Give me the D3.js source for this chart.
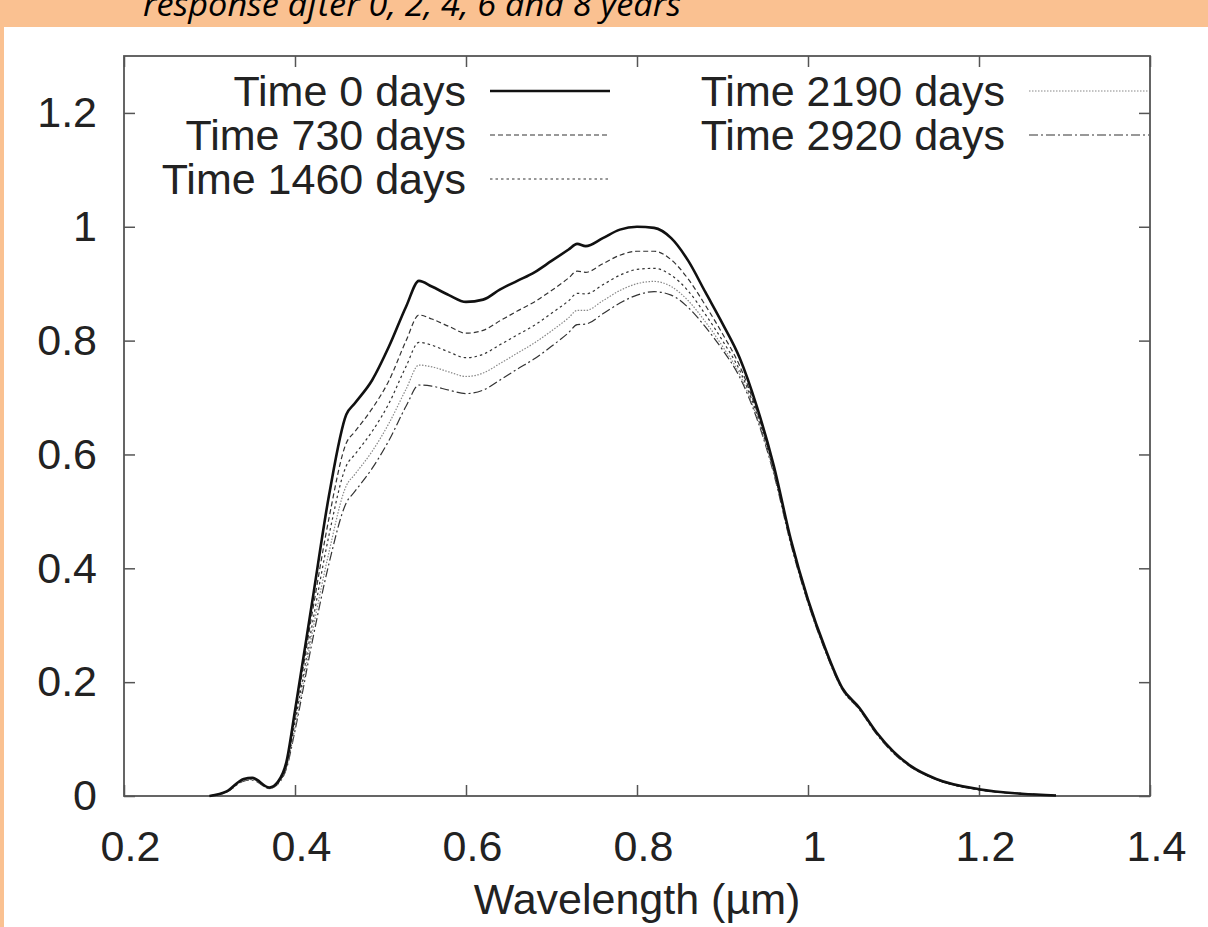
<!DOCTYPE html>
<html>
<head>
<meta charset="utf-8">
<script src="https://cdn.jsdelivr.net/npm/d3@7"></script>
<style>
  html, body { margin: 0; padding: 0; background: #fff; }
  svg { display: block; }
</style>
</head>
<body>
<svg id="chart" width="1208" height="927"></svg>
<script>
// wavelength grid (µm)
const wavelength = [0.30, 0.32, 0.34, 0.35, 0.37, 0.38, 0.39, 0.40,
  0.42, 0.44, 0.46, 0.47, 0.49, 0.51, 0.53, 0.545,
  0.56, 0.58, 0.60, 0.62, 0.64, 0.66, 0.68, 0.70,
  0.72, 0.73, 0.74, 0.76, 0.78, 0.80, 0.82, 0.84,
  0.86, 0.88, 0.90, 0.92, 0.94, 0.96, 0.98, 1.00,
  1.02, 1.04, 1.06, 1.08, 1.10, 1.12, 1.15, 1.20, 1.25, 1.29];

const time0 = [0.000, 0.008, 0.030, 0.032, 0.015, 0.025, 0.060, 0.150,
  0.340, 0.530, 0.670, 0.690, 0.730, 0.790, 0.860, 0.905,
  0.895, 0.880, 0.868, 0.872, 0.890, 0.905, 0.920, 0.940,
  0.960, 0.970, 0.966, 0.980, 0.995, 1.000, 0.998, 0.980,
  0.940, 0.885, 0.830, 0.770, 0.685, 0.580, 0.450, 0.345,
  0.260, 0.190, 0.155, 0.112, 0.078, 0.053, 0.030, 0.012, 0.004, 0.001];

const time730 = [0.000, 0.008, 0.029, 0.031, 0.014, 0.024, 0.055, 0.140,
  0.320, 0.490, 0.620, 0.640, 0.680, 0.730, 0.800, 0.845,
  0.838, 0.825, 0.813, 0.818, 0.835, 0.852, 0.868, 0.888,
  0.910, 0.922, 0.920, 0.935, 0.950, 0.957, 0.957, 0.942,
  0.908, 0.862, 0.812, 0.756, 0.677, 0.575, 0.447, 0.343,
  0.258, 0.189, 0.154, 0.111, 0.077, 0.052, 0.029, 0.011, 0.004, 0.001];

const time1460 = [0.000, 0.008, 0.028, 0.030, 0.014, 0.023, 0.052, 0.130,
  0.300, 0.460, 0.580, 0.600, 0.640, 0.690, 0.755, 0.797,
  0.792, 0.780, 0.770, 0.776, 0.793, 0.810, 0.827, 0.848,
  0.870, 0.883, 0.882, 0.898, 0.915, 0.925, 0.927, 0.915,
  0.887, 0.846, 0.800, 0.748, 0.672, 0.571, 0.445, 0.341,
  0.257, 0.188, 0.153, 0.110, 0.076, 0.052, 0.029, 0.011, 0.004, 0.001];

const time2190 = [0.000, 0.007, 0.027, 0.029, 0.013, 0.022, 0.050, 0.120,
  0.285, 0.430, 0.545, 0.565, 0.605, 0.655, 0.715, 0.757,
  0.754, 0.745, 0.737, 0.743, 0.760, 0.778, 0.796, 0.817,
  0.840, 0.853, 0.853, 0.870, 0.888, 0.900, 0.904, 0.895,
  0.870, 0.833, 0.790, 0.741, 0.667, 0.568, 0.443, 0.340,
  0.256, 0.187, 0.152, 0.110, 0.076, 0.051, 0.029, 0.011, 0.004, 0.001];

const time2920 = [0.000, 0.007, 0.026, 0.028, 0.013, 0.021, 0.048, 0.115,
  0.270, 0.410, 0.515, 0.535, 0.575, 0.625, 0.685, 0.722,
  0.720, 0.713, 0.707, 0.713, 0.731, 0.750, 0.768, 0.790,
  0.814, 0.828, 0.829, 0.847, 0.866, 0.880, 0.886, 0.880,
  0.858, 0.824, 0.784, 0.736, 0.664, 0.566, 0.442, 0.339,
  0.255, 0.187, 0.152, 0.109, 0.075, 0.051, 0.029, 0.011, 0.004, 0.001];

const seriesNames = ["Time 0 days", "Time 730 days", "Time 1460 days", "Time 2190 days", "Time 2920 days"];
const xTicks = [0.2, 0.4, 0.6, 0.8, 1.0, 1.2, 1.4];
const yTicks = [0, 0.2, 0.4, 0.6, 0.8, 1.0, 1.2];
const titleText = "response after 0, 2, 4, 6 and 8 years";
const xLabel = "Wavelength (\u00b5m)";

const series = [time0, time730, time1460, time2190, time2920].map((v, i) => ({
  name: seriesNames[i],
  points: wavelength.map((w, j) => [w, v[j]])
}));

// line styles per series (gnuplot mono look)
const styles = [
  { width: 2.6, dash: null, color: "#111" },
  { width: 1.2, dash: "5,3", color: "#333" },
  { width: 1.2, dash: "2.5,3", color: "#333" },
  { width: 1.2, dash: "1.5,1.5", color: "#888" },
  { width: 1.2, dash: "9,3,2,3", color: "#333" }
];

const svg = d3.select("#chart");
const W = 1208, H = 927;
const margin = { left: 124, top: 56, right: 1150, bottom: 796 };
const font = "'Liberation Sans', Arial, Helvetica, sans-serif";
const axisColor = "#555";

// orange slide background
svg.append("rect").attr("width", W).attr("height", H).attr("fill", "#fac191");
svg.append("rect").attr("x", 4).attr("y", 27).attr("width", W - 4).attr("height", H - 27).attr("fill", "#fff");

// slide caption, cut off at the top as in the source
svg.append("text")
  .attr("x", 143).attr("y", 16)
  .attr("font-family", "'Open Sans', Lato, sans-serif")
  .attr("font-style", "italic")
  .attr("font-size", 33)
  .attr("fill", "#000")
  .attr("textLength", 538)
  .attr("lengthAdjust", "spacingAndGlyphs")
  .text(titleText);

const x = d3.scaleLinear().domain([0.2, 1.4]).range([margin.left, margin.right]);
const y = d3.scaleLinear().domain([0, 1.3]).range([margin.bottom, margin.top]);

const fmt = d3.format("~g");
const tickLen = 11;

function styleAxis(g) {
  g.select(".domain").remove();
  g.selectAll(".tick line").attr("stroke", axisColor).attr("stroke-width", 1.5);
  g.selectAll(".tick text").attr("font-family", font).attr("font-size", 43).attr("fill", "#222");
}

svg.append("g")
  .attr("transform", `translate(0,${margin.bottom})`)
  .call(d3.axisBottom(x).tickValues(xTicks).tickFormat(fmt).tickSize(-tickLen).tickPadding(34))
  .call(styleAxis)
  .call(g => g.selectAll(".tick text").attr("dx", 6));

svg.append("g")
  .attr("transform", `translate(0,${margin.top})`)
  .call(d3.axisTop(x).tickValues(xTicks).tickFormat("").tickSize(-tickLen))
  .call(styleAxis);

svg.append("g")
  .attr("transform", `translate(${margin.left},0)`)
  .call(d3.axisLeft(y).tickValues(yTicks).tickFormat(fmt).tickSize(-tickLen).tickPadding(27))
  .call(styleAxis);

svg.append("g")
  .attr("transform", `translate(${margin.right},0)`)
  .call(d3.axisRight(y).tickValues(yTicks).tickFormat("").tickSize(-tickLen))
  .call(styleAxis);

// frame
svg.append("rect")
  .attr("x", margin.left).attr("y", margin.top)
  .attr("width", margin.right - margin.left)
  .attr("height", margin.bottom - margin.top)
  .attr("fill", "none")
  .attr("stroke", axisColor)
  .attr("stroke-width", 1.8);

const line = d3.line()
  .x(d => x(d[0]))
  .y(d => y(d[1]))
  .curve(d3.curveMonotoneX);

// draw thin ones first, solid on top
svg.append("g").selectAll("path")
  .data(series.slice().reverse())
  .join("path")
  .attr("d", d => line(d.points))
  .attr("fill", "none")
  .attr("stroke", d => styles[series.indexOf(d)].color)
  .attr("stroke-width", d => styles[series.indexOf(d)].width)
  .attr("stroke-dasharray", d => styles[series.indexOf(d)].dash)
  .attr("stroke-linejoin", "round");

// legend, two columns like gnuplot key
const legendRows = 3, rowH = 44;
const legend = svg.append("g").selectAll("g")
  .data(series)
  .join("g")
  .attr("transform", (d, i) => {
    const col = Math.floor(i / legendRows), row = i % legendRows;
    return `translate(${col === 0 ? 466 : 1005},${91 + row * rowH})`;
  });

legend.append("text")
  .attr("text-anchor", "end")
  .attr("dy", "0.35em")
  .attr("font-family", font)
  .attr("font-size", 43)
  .attr("fill", "#222")
  .text(d => d.name);

legend.append("line")
  .attr("x1", 24).attr("x2", 144)
  .attr("stroke", (d, i) => styles[i].color)
  .attr("stroke-width", (d, i) => styles[i].width)
  .attr("stroke-dasharray", (d, i) => styles[i].dash);

svg.append("text")
  .attr("x", x(0.8)).attr("y", 914)
  .attr("text-anchor", "middle")
  .attr("font-family", font)
  .attr("font-size", 43)
  .attr("fill", "#222")
  .text(xLabel);
</script>
</body>
</html>
